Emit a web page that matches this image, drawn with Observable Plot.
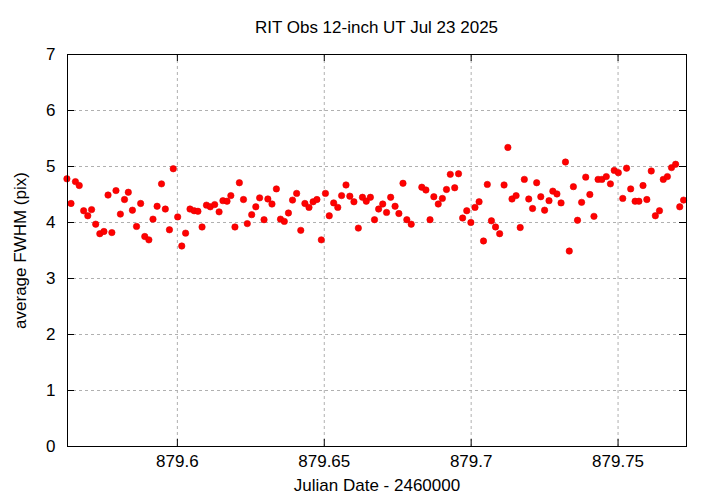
<!DOCTYPE html>
<html><head><meta charset="utf-8">
<script src="https://cdn.jsdelivr.net/npm/d3@7"></script>
<script src="https://cdn.jsdelivr.net/npm/@observablehq/plot@0.6"></script>
<style>
html,body{margin:0;padding:0;background:#fff;}
body{font-family:"Liberation Sans",Arial,sans-serif;width:720px;height:504px;overflow:hidden;}
#title{box-sizing:border-box;margin-left:67px;width:619px;height:48px;padding-top:19px;font-size:17px;line-height:17px;text-align:center;color:#000;}
</style></head>
<body>
<div id="title">RIT Obs 12-inch UT Jul 23 2025</div>
<div id="chart"></div>
<script>
const jd = [879.5624,879.5638,879.5653,879.5666,879.5681,879.5695,879.5708,879.5722,879.5736,879.5750,
879.5764,879.5777,879.5791,879.5806,879.5820,879.5833,879.5847,879.5861,879.5875,879.5889,
879.5903,879.5917,879.5931,879.5946,879.5959,879.5973,879.5986,879.6001,879.6015,879.6028,
879.6043,879.6057,879.6070,879.6084,879.6099,879.6112,879.6127,879.6142,879.6155,879.6169,
879.6182,879.6196,879.6211,879.6225,879.6238,879.6253,879.6267,879.6280,879.6295,879.6308,
879.6322,879.6337,879.6351,879.6364,879.6378,879.6392,879.6406,879.6420,879.6434,879.6448,
879.6462,879.6475,879.6490,879.6504,879.6517,879.6532,879.6546,879.6559,879.6574,879.6587,
879.6601,879.6616,879.6630,879.6643,879.6657,879.6671,879.6685,879.6699,879.6712,879.6726,
879.6741,879.6754,879.6768,879.6781,879.6796,879.6832,879.6846,879.6860,879.6873,879.6888,
879.6902,879.6916,879.6929,879.6944,879.6957,879.6971,879.6985,879.6999,879.7013,879.7027,
879.7042,879.7055,879.7069,879.7083,879.7097,879.7112,879.7125,879.7139,879.7153,879.7167,
879.7181,879.7196,879.7209,879.7223,879.7237,879.7250,879.7265,879.7278,879.7292,879.7306,
879.7321,879.7334,879.7348,879.7362,879.7376,879.7390,879.7404,879.7418,879.7432,879.7445,
879.7460,879.7474,879.7487,879.7501,879.7516,879.7529,879.7543,879.7558,879.7571,879.7585,
879.7598,879.7613,879.7627,879.7641,879.7654,879.7668,879.7682,879.7696,879.7710,879.7723];
const fwhm = [4.78,4.34,4.73,4.66,4.21,4.12,4.23,3.97,3.80,3.84,
4.49,3.82,4.57,4.15,4.41,4.54,4.22,3.93,4.34,3.75,
3.69,4.06,4.29,4.69,4.24,3.87,4.96,4.10,3.58,3.81,
4.24,4.21,4.20,3.92,4.31,4.28,4.32,4.19,4.39,4.38,
4.48,3.92,4.71,4.41,3.98,4.14,4.28,4.44,4.05,4.42,
4.33,4.60,4.06,4.02,4.17,4.40,4.52,3.86,4.34,4.27,
4.37,4.41,3.69,4.52,4.12,4.35,4.27,4.48,4.67,4.47,
4.37,3.90,4.45,4.38,4.45,4.05,4.24,4.33,4.18,4.45,
4.29,4.16,4.70,4.05,3.97,4.63,4.58,4.05,4.46,4.33,
4.43,4.59,4.86,4.62,4.87,4.08,4.21,4.00,4.27,4.37,
3.67,4.68,4.03,3.92,3.80,4.67,5.34,4.42,4.48,3.91,
4.77,4.42,4.25,4.71,4.46,4.22,4.39,4.56,4.51,4.35,
5.08,3.49,4.64,4.04,4.36,4.81,4.50,4.11,4.77,4.77,
4.82,4.69,4.93,4.89,4.43,4.97,4.60,4.38,4.38,4.66,
4.41,4.92,4.12,4.21,4.77,4.82,4.98,5.04,4.28,4.40];
const xTicks = [879.6, 879.65, 879.7, 879.75];
const yTicks = [0, 1, 2, 3, 4, 5, 6, 7];
const xDomain = [879.5626, 879.7733];
const yDomain = [0, 7];
const xLabel = "Julian Date - 2460000";
const yLabel = "average FWHM (pix)";

const data = jd.map((x, i) => ({x, y: fwhm[i]}));
const plotH = 392, plotW = 619, tk = 7;

const chart = Plot.plot({
  width: 720, height: 456,
  marginTop: 6, marginBottom: 58, marginLeft: 67, marginRight: 34,
  style: {fontFamily: '"Liberation Sans", Arial, sans-serif', fontSize: "17px", color: "#000", background: "#fff", overflow: "visible"},
  x: {domain: xDomain},
  y: {domain: yDomain},
  marks: [
    Plot.gridX(xTicks, {stroke: "#b0b0b0", strokeOpacity: 1, strokeDasharray: "3,3"}),
    Plot.gridY(yTicks, {stroke: "#b0b0b0", strokeOpacity: 1, strokeDasharray: "3,3"}),
    Plot.tickX(xTicks, {x: d => d, stroke: "#000", insetTop: plotH - tk}),
    Plot.tickX(xTicks, {x: d => d, stroke: "#000", insetBottom: plotH - tk}),
    Plot.tickY(yTicks, {y: d => d, stroke: "#000", insetRight: plotW - tk}),
    Plot.tickY(yTicks, {y: d => d, stroke: "#000", insetLeft: plotW - tk}),
    Plot.axisX(xTicks, {anchor: "bottom", tickSize: 0, tickPadding: 8, fontSize: 17, tickFormat: d => String(d), label: null}),
    Plot.axisY(yTicks, {anchor: "left", tickSize: 0, tickPadding: 12, fontSize: 17, tickFormat: d => String(d), label: null}),
    Plot.dot(data, {x: "x", y: "y", r: 3.2, fill: "#ff0000", stroke: "#e00000", strokeWidth: 0.6}),
    Plot.frame({stroke: "#000", strokeWidth: 1}),
    Plot.text([xLabel], {frameAnchor: "bottom", dy: 44, fontSize: 17}),
    Plot.text([yLabel], {frameAnchor: "left", textAnchor: "middle", dx: -47, rotate: -90, fontSize: 17})
  ]
});
document.getElementById("chart").appendChild(chart);
</script>
</body></html>
